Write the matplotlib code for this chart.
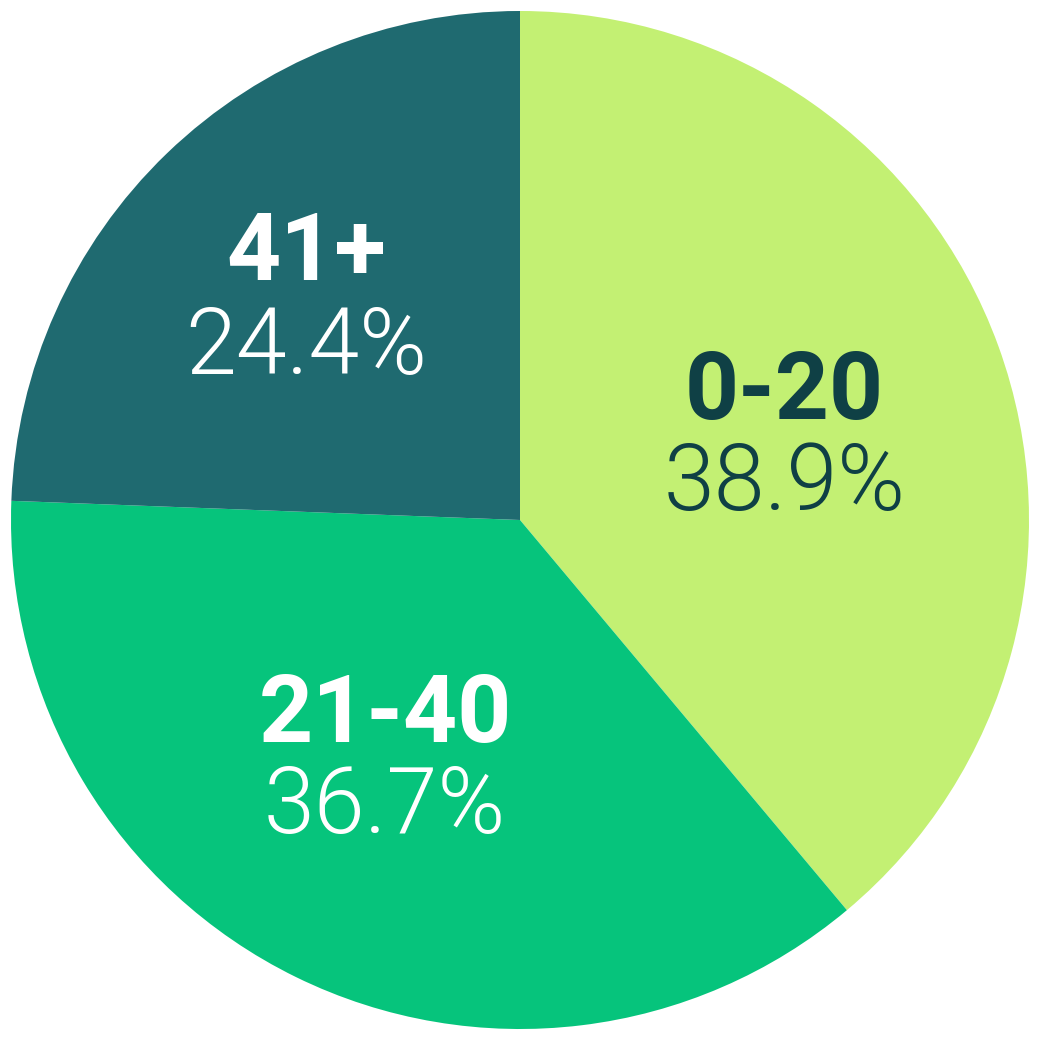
import matplotlib.pyplot as plt

# data
groups = ['0-20', '21-40', '41+']
shares = [38.9, 36.7, 24.4]
colors = ['#c3f073', '#06c47c', '#1f6a70']
text_colors = ['#0f4045', 'white', 'white']
# label anchor positions (data coords, baseline of name / percent)
label_xy = [(0.52, 0.198, 0.02), (-0.265, -0.436, -0.615), (-0.42, 0.4715, 0.287)]

plt.rcParams['font.family'] = ['Roboto', 'DejaVu Sans']

fig = plt.figure(figsize=(10.4, 10.4), dpi=100)
ax = fig.add_axes([0, 0, 1, 1])
ax.pie(shares, colors=colors, startangle=90, counterclock=False,
       radius=1, wedgeprops={'linewidth': 0})
ax.set_xlim(-1.0216, 1.0216)
ax.set_ylim(-1.0216, 1.0216)
ax.set_aspect('equal')
ax.axis('off')

for g, s, tc, (x, y1, y2) in zip(groups, shares, text_colors, label_xy):
    ax.text(x, y1, g, ha='center', va='baseline', fontsize=68,
            fontweight='bold', color=tc)
    ax.text(x, y2, f'{s:.1f}%', ha='center', va='baseline', fontsize=66,
            fontweight=300, color=tc)

fig.savefig('out.png', dpi=100)
